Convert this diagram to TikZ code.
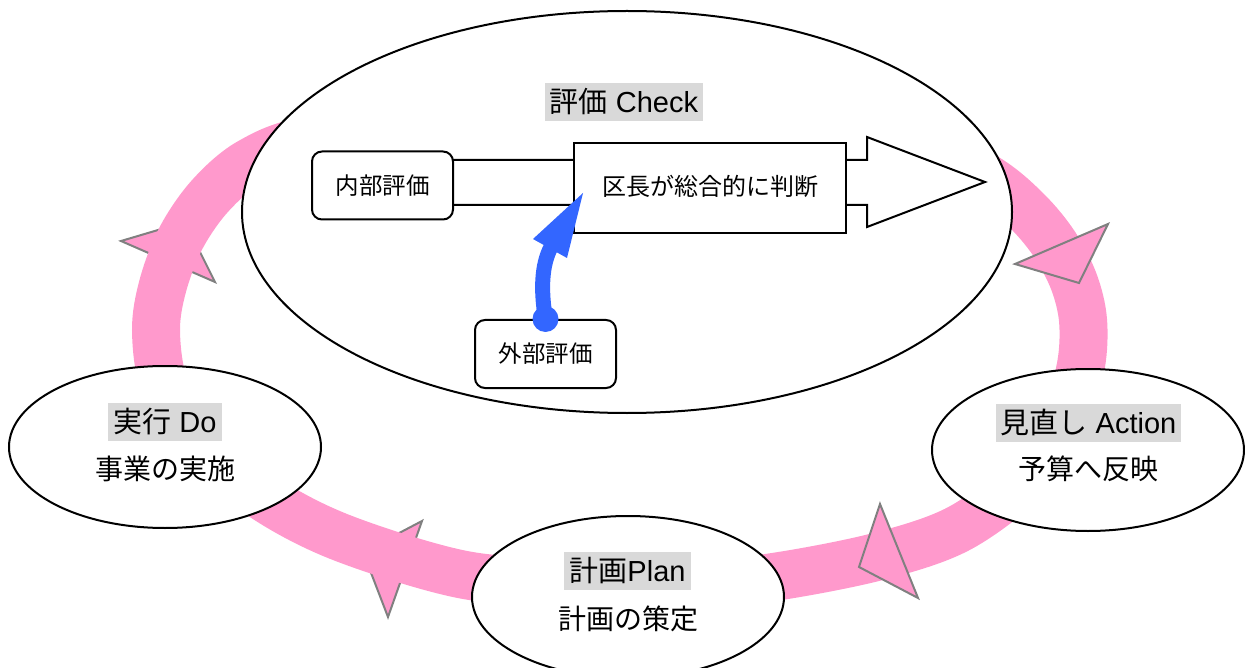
\documentclass[tikz,border=0pt]{standalone}
\usepackage{fontspec}
\setmainfont{Liberation Sans}
\newfontfamily\jp{Noto Sans CJK JP}
\usetikzlibrary{shapes.geometric}
\definecolor{ringpink}{HTML}{FF99CC}
\definecolor{ringgray}{HTML}{808080}
\definecolor{lblgray}{HTML}{D9D9D9}
\definecolor{arrblue}{HTML}{3366FF}
\begin{document}
\begin{tikzpicture}[x=1pt,y=-1pt,
  headtri/.style={draw=ringgray, line width=2pt, fill=ringpink, line join=miter},
  band/.style={draw=ringpink, line width=48pt},
  bigell/.style={ellipse, draw=black, line width=2pt, fill=white, inner sep=0pt},
  smell/.style={ellipse, draw=black, line width=2pt, fill=white, inner sep=0pt, minimum width=312pt, minimum height=162pt},
  lbl/.style={fill=lblgray, inner xsep=5pt, inner ysep=0pt, minimum height=38pt, font=\fontsize{29}{33}\selectfont},
  sub/.style={inner sep=0pt, font=\jp\fontsize{28}{32}\selectfont},
  rbox/.style={draw=black, line width=2pt, rounded corners=10pt, fill=white, minimum width=141pt, minimum height=68pt, inner sep=0pt, font=\jp\fontsize{23.5}{26}\selectfont},
  sqbox/.style={draw=black, line width=2pt, fill=white, minimum width=272pt, minimum height=90pt, inner sep=0pt, font=\jp\fontsize{24}{28}\selectfont},
]
\useasboundingbox (0,0) rectangle (1245,668);

% arrowheads lying under the ring
\draw[headtri] (121,241) -- (215,282) -- (185,222) -- cycle;
\draw[headtri] (422,521) -- (388,617) -- (363,552) -- cycle;

% the pink ring
\draw[band] plot[smooth cycle, tension=0.55] coordinates {
  (156,330) (163,285) (181,238) (210,196) (250,162) (310,140) (450,125) (627,120)
  (800,128) (930,150) (990,180) (1028,212) (1055,245) (1074,282) (1083,320) (1081,365)
  (1065,420) (1030,475) (960,528) (880,556) (780,576) (700,584) (560,582)
  (460,574) (340,537) (260,495) (195,440) (164,385)};

% arrowheads lying on the ring
\draw[headtri] (1015,264) -- (1108,224) -- (1079,283) -- cycle;
\draw[headtri] (880,504) -- (859,567) -- (918,598) -- cycle;

% Check
\node (check) [bigell, minimum width=770pt, minimum height=402pt] at (627,212) {};
\node (checkl) [lbl] at (624,102) {{\jp 評価} Check};

% block arrow
\draw[line width=2pt, fill=white, line join=miter]
  (453,160) -- (867,160) -- (867,137) -- (985,182) -- (867,227) -- (867,205) -- (453,205);
\node (naibu) [rbox] at (382.5,185.5) {内部評価};
\node (kucho) [sqbox] at (710,188) {\raisebox{6pt}{区長が総合的に判断}};
\node (gaibu) [rbox] at (545.5,354) {外部評価};

% blue arrow from 外部評価 to the judgement box
\coordinate (bstart) at (gaibu.north);
\coordinate (btip) at (583,193);
\coordinate (bbase) at (551,247);
\fill[arrblue] (bstart) circle (13pt);
\draw[arrblue, line width=15pt] (bstart) .. controls (541,292) and (541,266) .. (bbase);
\fill[arrblue] (btip) -- (533,239) -- (567,258) -- cycle;

% Do
\node (do) [smell] at (165,447) {};
\node (dol) [lbl] at (165,421.5) {{\jp 実行} Do};
\node (dos) [sub] at (165,469) {事業の実施};

% Action
\node (act) [smell] at (1088,450) {};
\node (actl) [lbl] at (1088.5,422.5) {{\jp 見直し} Action};
\node (acts) [sub] at (1088,469) {予算へ反映};

% Plan
\node (plan) [smell] at (628,597) {};
\node (planl) [lbl] at (627.5,571) {{\jp 計画}Plan};
\node (plans) [sub] at (628,619) {計画の策定};
\end{tikzpicture}
\end{document}
